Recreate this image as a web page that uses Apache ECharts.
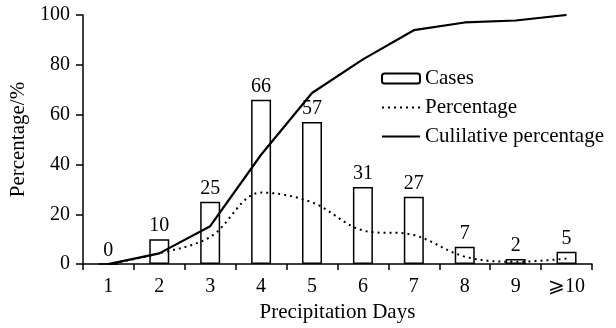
<!DOCTYPE html>
<html>
<head>
<meta charset="utf-8">
<script src="https://cdn.jsdelivr.net/npm/echarts@6/dist/echarts.min.js"></script>
<style>
  html, body { margin: 0; padding: 0; background: #fff; }
  #chart { width: 616px; height: 328px; }
</style>
</head>
<body>
<div id="chart"></div>
<script>
// Precipitation days and the number of cases in each group
const days = ['1', '2', '3', '4', '5', '6', '7', '8', '9', '⩾10'];
const cases = [0, 10, 25, 66, 57, 31, 27, 7, 2, 5];
// Share of all cases per group (%)
const percentage = [0, 4.3, 10.9, 28.7, 24.8, 13.5, 11.7, 3.0, 0.9, 2.2];
// Running total of the share (%)
const cumulative = [0, 4.3, 15.2, 43.9, 68.7, 82.2, 93.9, 97.0, 97.8, 100];
const yTicks = { min: 0, max: 100, interval: 20 };

const FONT = '"Liberation Serif", "Times New Roman", "DejaVu Serif", serif';
const chart = echarts.init(document.getElementById('chart'), null, { renderer: 'canvas' });

chart.setOption({
  animation: false,
  backgroundColor: '#fff',
  textStyle: { fontFamily: FONT, color: '#000' },
  grid: { left: 77, right: 24, top: 15, bottom: 60 },
  legend: {
    orient: 'vertical',
    left: 376,
    top: 63,
    itemWidth: 38,
    itemHeight: 10,
    itemGap: 8,
    textStyle: { fontFamily: FONT, fontSize: 21, color: '#000' },
    data: ['Cases', 'Percentage', 'Culilative percentage']
  },
  xAxis: {
    type: 'category',
    data: days,
    boundaryGap: true,
    name: 'Precipitation Days',
    nameLocation: 'middle',
    nameGap: 37,
    nameTextStyle: { fontFamily: FONT, fontSize: 21, color: '#000' },
    axisLine: { lineStyle: { color: '#000', width: 1.5 } },
    axisTick: { show: true, length: 6, lineStyle: { color: '#000', width: 1.5 } },
    axisLabel: { fontFamily: FONT, fontSize: 20, color: '#000', margin: 13 },
    splitLine: { show: false }
  },
  yAxis: {
    type: 'value',
    min: yTicks.min,
    max: yTicks.max,
    interval: yTicks.interval,
    name: 'Percentage/%',
    nameLocation: 'middle',
    nameGap: 47,
    nameTextStyle: { fontFamily: FONT, fontSize: 21, color: '#000' },
    axisLine: { show: true, lineStyle: { color: '#000', width: 1.5 } },
    axisTick: { show: true, length: 7, lineStyle: { color: '#000', width: 1.5 } },
    axisLabel: { fontFamily: FONT, fontSize: 20, color: '#000', margin: 13 },
    splitLine: { show: false }
  },
  series: [
    {
      name: 'Cases',
      type: 'bar',
      data: cases,
      barWidth: 20,
      itemStyle: { color: '#fff', borderColor: '#000', borderWidth: 1.5 },
      label: {
        show: true,
        position: 'top',
        distance: 3,
        fontFamily: FONT,
        fontSize: 20,
        color: '#000'
      },
      z: 2
    },
    {
      name: 'Percentage',
      type: 'line',
      data: percentage,
      smooth: 0.35,
      symbol: 'none',
      itemStyle: { color: '#000', opacity: 0 },
      lineStyle: { color: '#000', width: 2, type: [2, 4], opacity: 1 },
      z: 3
    },
    {
      name: 'Culilative percentage',
      type: 'line',
      data: cumulative,
      symbol: 'none',
      itemStyle: { color: '#000', opacity: 0 },
      lineStyle: { color: '#000', width: 2.2, opacity: 1 },
      z: 4
    }
  ]
});
</script>
</body>
</html>
